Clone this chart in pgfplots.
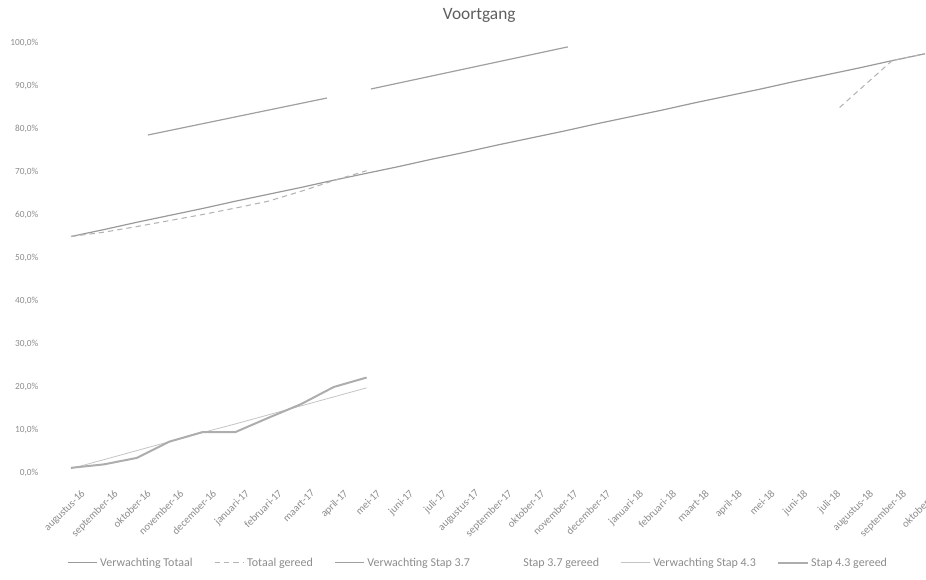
\documentclass[border=0pt]{standalone}
\usepackage{fontspec}
\setmainfont{Carlito}
\usepackage{pgfplots}
\pgfplotsset{compat=1.18}
\definecolor{txtgrey}{HTML}{8C8C8C}
\definecolor{titlegrey}{HTML}{5E5E5E}
\definecolor{lineA}{HTML}{9A9A9A}
\definecolor{lineB}{HTML}{B4B4B4}
\definecolor{lineC}{HTML}{A0A0A0}
\definecolor{lineD}{HTML}{C4C4C4}
\definecolor{lineE}{HTML}{ADADAD}

\begin{document}
\begin{tikzpicture}
\useasboundingbox (0pt,0pt) rectangle (694.5pt,435pt);
\begin{axis}[
  at={(53.25pt,80.25pt)}, anchor=south west,
  scale only axis, width=640.5pt, height=322.5pt,
  xmin=0, xmax=26, ymin=0, ymax=100,
  axis line style={draw=none},
  major tick length=0pt,
  xtick={0,...,26},
  xticklabels={augustus-16, september-16, oktober-16, november-16, december-16,
    januari-17, februari-17, maart-17, april-17, mei-17, juni-17, juli-17,
    augustus-17, september-17, oktober-17, november-17, december-17,
    januari-18, februari-18, maart-18, april-18, mei-18, juni-18, juli-18,
    augustus-18, september-18, oktober-18},
  xticklabel style={rotate=45, anchor=north east, font=\fontsize{8}{9}\selectfont, text=txtgrey, yshift=-10pt},
  ytick={0,10,...,100},
  yticklabel={\pgfmathprintnumber[fixed,fixed zerofill,precision=1,use comma,assume math mode=true]{\tick}\%},
  yticklabel style={font=\fontsize{7}{8}\selectfont, text=txtgrey, xshift=-21pt},
  clip=false,
  unbounded coords=jump,
  legend columns=6,
  legend cell align=left,
  legend style={at={(0.477,-0.209)}, anchor=center, draw=none, fill=none,
    font=\fontsize{9}{10}\selectfont, text=txtgrey,
    /tikz/every even column/.append style={column sep=14pt}},
  legend image code/.code={\draw[#1] (0pt,0pt) -- (22pt,0pt);},
]
% Verwachting Totaal
\addplot[lineA, line width=0.9pt] coordinates {
  (0,55.0) (1,56.6) (2,58.3) (3,59.9) (4,61.5) (5,63.2) (6,64.8) (7,66.4)
  (8,68.1) (9,69.7) (10,71.3) (11,73.0) (12,74.6) (13,76.3) (14,77.9)
  (15,79.5) (16,81.2) (17,82.8) (18,84.4) (19,86.1) (20,87.7) (21,89.3)
  (22,91.0) (23,92.6) (24,94.2) (25,95.9) (26,97.5)
};
\addlegendentry{Verwachting Totaal}
% Totaal gereed
\addplot[lineB, line width=0.8pt, dash pattern=on 4pt off 3pt] coordinates {
  (0,55.0) (1,56.0) (2,57.3) (3,58.7) (4,60.1) (5,61.6) (6,63.2) (7,65.5)
  (8,68.0) (9,70.3)
  (23.4,nan) (23.4,85.0) (25,95.9) (26,97.5)
};
\addlegendentry{Totaal gereed}
% Verwachting Stap 3.7
\addplot[lineC, line width=0.9pt] coordinates {
  (2.34,78.6) (7.79,87.2) (8.5,nan) (9.13,89.3) (15.13,99.1)
};
\addlegendentry{Verwachting Stap 3.7}
% Stap 3.7 gereed (geen zichtbare lijn)
\addlegendimage{white, line width=0pt}
\addlegendentry{Stap 3.7 gereed}
% Verwachting Stap 4.3
\addplot[lineD, line width=0.6pt] coordinates {
  (0,1.0) (1,3.1) (2,5.2) (3,7.3) (4,9.4) (5,11.4) (6,13.5) (7,15.6)
  (8,17.7) (9,19.8)
};
\addlegendentry{Verwachting Stap 4.3}
% Stap 4.3 gereed
\addplot[lineE, line width=1.5pt] coordinates {
  (0,1.2) (1,2.0) (2,3.5) (3,7.3) (4,9.5) (5,9.5) (6,12.8) (7,16.0)
  (8,20.0) (9,22.2)
};
\addlegendentry{Stap 4.3 gereed}
\node[font=\fontsize{13}{15}\selectfont, text=titlegrey, anchor=center]
  at (rel axis cs:0.478,1.063) {Voortgang};
\end{axis}
\end{tikzpicture}
\end{document}
